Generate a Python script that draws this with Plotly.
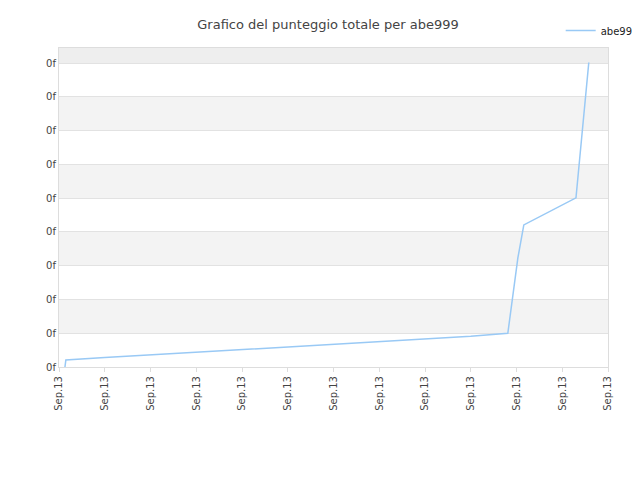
import plotly.graph_objects as go

x_vals = [0.13, 0.15, 1.0, 2.0, 3.0, 4.0, 5.0, 6.0, 7.0, 8.0, 9.0, 9.81, 10.03, 10.16, 11.3, 11.58]
y_vals = [0.0, 0.21, 0.28, 0.36, 0.44, 0.52, 0.59, 0.67, 0.75, 0.83, 0.91, 1.0, 3.23, 4.21, 5.01, 9.02]
x_ticks = list(range(13))
x_labels = ["Sep.13"] * 13
y_ticks = list(range(10))
y_labels = ["0f"] * 10

fig = go.Figure()
fig.add_trace(go.Scatter(x=x_vals, y=y_vals, mode="lines", name="abe999",
                         line=dict(color="#99c9f5", width=1.5)))
shapes = []
for i in range(1, 9, 2):
    shapes.append(dict(type="rect", xref="paper", yref="y", x0=0, x1=1, y0=i, y1=i+1,
                       fillcolor="#f3f3f3", line_width=0, layer="below"))
shapes.append(dict(type="rect", xref="paper", yref="y", x0=0, x1=1, y0=9, y1=9.45,
                   fillcolor="#eeeeee", line_width=0, layer="below"))
fig.update_layout(
    width=640, height=480, shapes=shapes,
    paper_bgcolor="white", plot_bgcolor="white",
    font=dict(family="DejaVu Sans", size=10, color="#444"),
    title=dict(text="Grafico del punteggio totale per abe999", x=0.5, xanchor="center",
               y=0.975, font=dict(size=13, color="#444")),
    margin=dict(l=51, r=40, t=40, b=121, autoexpand=False),
    showlegend=True,
    legend=dict(x=1.065, y=1.1, xanchor="right", yanchor="top", bgcolor="rgba(0,0,0,0)",
                font=dict(size=10, color="#222")),
    xaxis=dict(range=[0, 12], tickvals=x_ticks, ticktext=x_labels, tickangle=-90,
               automargin=False, tickfont=dict(size=10),
               showgrid=False, zeroline=False, showline=True, linecolor="#ddd", mirror=True,
               ticks="outside", ticklen=4, tickcolor="#ddd"),
    yaxis=dict(range=[0, 9.45], tickvals=y_ticks, ticktext=y_labels, automargin=False,
               showgrid=True, gridcolor="#e2e2e2", zeroline=False,
               showline=True, linecolor="#ddd", mirror=True),
)
fig.write_html("out.html")
